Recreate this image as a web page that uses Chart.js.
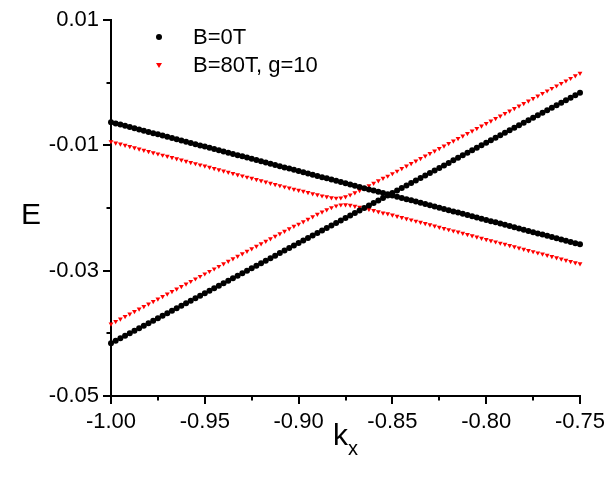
<!DOCTYPE html>
<html>
<head>
<meta charset="utf-8">
<script src="https://cdn.jsdelivr.net/npm/chart.js"></script>
<style>
  html, body { margin: 0; padding: 0; background: #fff; }
  #wrap { width: 615px; height: 477px; }
</style>
</head>
<body>
<div id="wrap"><canvas id="chart" width="615" height="477"></canvas></div>
<script>
// k_x grid shared by all four branches
const kx = [
  -1.0000, -0.9975, -0.9950, -0.9925, -0.9900, -0.9875, -0.9850, -0.9825, -0.9800, -0.9775,
  -0.9750, -0.9725, -0.9700, -0.9675, -0.9650, -0.9625, -0.9600, -0.9575, -0.9550, -0.9525,
  -0.9500, -0.9475, -0.9450, -0.9425, -0.9400, -0.9375, -0.9350, -0.9325, -0.9300, -0.9275,
  -0.9250, -0.9225, -0.9200, -0.9175, -0.9150, -0.9125, -0.9100, -0.9075, -0.9050, -0.9025,
  -0.9000, -0.8975, -0.8950, -0.8925, -0.8900, -0.8875, -0.8850, -0.8825, -0.8800, -0.8775,
  -0.8750, -0.8725, -0.8700, -0.8675, -0.8650, -0.8625, -0.8600, -0.8575, -0.8550, -0.8525,
  -0.8500, -0.8475, -0.8450, -0.8425, -0.8400, -0.8375, -0.8350, -0.8325, -0.8300, -0.8275,
  -0.8250, -0.8225, -0.8200, -0.8175, -0.8150, -0.8125, -0.8100, -0.8075, -0.8050, -0.8025,
  -0.8000, -0.7975, -0.7950, -0.7925, -0.7900, -0.7875, -0.7850, -0.7825, -0.7800, -0.7775,
  -0.7750, -0.7725, -0.7700, -0.7675, -0.7650, -0.7625, -0.7600, -0.7575, -0.7550, -0.7525,
  -0.7500
];

// B=0T, falling branch
const b0Down = [
  -0.00630, -0.00650, -0.00669, -0.00689, -0.00708, -0.00728, -0.00747, -0.00767, -0.00786, -0.00806,
  -0.00825, -0.00845, -0.00864, -0.00884, -0.00903, -0.00923, -0.00942, -0.00962, -0.00981, -0.01001,
  -0.01020, -0.01040, -0.01059, -0.01079, -0.01098, -0.01118, -0.01137, -0.01157, -0.01176, -0.01196,
  -0.01215, -0.01235, -0.01254, -0.01274, -0.01293, -0.01313, -0.01332, -0.01352, -0.01371, -0.01391,
  -0.01410, -0.01430, -0.01449, -0.01469, -0.01488, -0.01508, -0.01527, -0.01547, -0.01566, -0.01586,
  -0.01605, -0.01625, -0.01644, -0.01664, -0.01683, -0.01703, -0.01722, -0.01742, -0.01761, -0.01781,
  -0.01800, -0.01820, -0.01839, -0.01859, -0.01878, -0.01898, -0.01917, -0.01937, -0.01956, -0.01976,
  -0.01995, -0.02015, -0.02034, -0.02054, -0.02073, -0.02093, -0.02112, -0.02132, -0.02151, -0.02171,
  -0.02190, -0.02210, -0.02229, -0.02249, -0.02268, -0.02288, -0.02307, -0.02327, -0.02346, -0.02366,
  -0.02385, -0.02405, -0.02424, -0.02444, -0.02463, -0.02483, -0.02502, -0.02522, -0.02541, -0.02561,
  -0.02580
];

// B=0T, rising branch
const b0Up = [
  -0.0416, -0.0412, -0.0408, -0.0404, -0.0400, -0.0396, -0.0392, -0.0388, -0.0384, -0.0380,
  -0.0376, -0.0372, -0.0368, -0.0364, -0.0360, -0.0356, -0.0352, -0.0348, -0.0344, -0.0340,
  -0.0336, -0.0332, -0.0328, -0.0324, -0.0320, -0.0316, -0.0312, -0.0308, -0.0304, -0.0300,
  -0.0296, -0.0292, -0.0288, -0.0284, -0.0280, -0.0276, -0.0272, -0.0268, -0.0264, -0.0260,
  -0.0256, -0.0252, -0.0248, -0.0244, -0.0240, -0.0236, -0.0232, -0.0228, -0.0224, -0.0220,
  -0.0216, -0.0212, -0.0208, -0.0204, -0.0200, -0.0196, -0.0192, -0.0188, -0.0184, -0.0180,
  -0.0176, -0.0172, -0.0168, -0.0164, -0.0160, -0.0156, -0.0152, -0.0148, -0.0144, -0.0140,
  -0.0136, -0.0132, -0.0128, -0.0124, -0.0120, -0.0116, -0.0112, -0.0108, -0.0104, -0.0100,
  -0.0096, -0.0092, -0.0088, -0.0084, -0.0080, -0.0076, -0.0072, -0.0068, -0.0064, -0.0060,
  -0.0056, -0.0052, -0.0048, -0.0044, -0.0040, -0.0036, -0.0032, -0.0028, -0.0024, -0.0020,
  -0.0016
];

// B=80T, upper band (anticrossing near kx=-0.88)
const b80Upper = [
  -0.00940, -0.00960, -0.00979, -0.00999, -0.01018, -0.01038, -0.01057, -0.01077, -0.01096, -0.01116,
  -0.01135, -0.01155, -0.01174, -0.01194, -0.01213, -0.01233, -0.01252, -0.01272, -0.01291, -0.01311,
  -0.01330, -0.01350, -0.01369, -0.01389, -0.01408, -0.01428, -0.01447, -0.01467, -0.01486, -0.01506,
  -0.01525, -0.01545, -0.01564, -0.01584, -0.01603, -0.01623, -0.01642, -0.01662, -0.01681, -0.01701,
  -0.01714, -0.01733, -0.01751, -0.01770, -0.01788, -0.01805, -0.01820, -0.01834, -0.01841, -0.01837,
  -0.01818, -0.01789, -0.01754, -0.01718, -0.01680, -0.01642, -0.01603, -0.01564, -0.01524, -0.01490,
  -0.01450, -0.01410, -0.01370, -0.01330, -0.01290, -0.01250, -0.01210, -0.01170, -0.01130, -0.01090,
  -0.01050, -0.01010, -0.00970, -0.00930, -0.00890, -0.00850, -0.00810, -0.00770, -0.00730, -0.00690,
  -0.00650, -0.00610, -0.00570, -0.00530, -0.00490, -0.00450, -0.00410, -0.00370, -0.00330, -0.00290,
  -0.00250, -0.00210, -0.00170, -0.00130, -0.00090, -0.00050, -0.00010, 0.00030, 0.00070, 0.00110,
  0.00150
];

// B=80T, lower band
const b80Lower = [
  -0.03850, -0.03810, -0.03770, -0.03730, -0.03690, -0.03650, -0.03610, -0.03570, -0.03530, -0.03490,
  -0.03450, -0.03410, -0.03370, -0.03330, -0.03290, -0.03250, -0.03210, -0.03170, -0.03130, -0.03090,
  -0.03050, -0.03010, -0.02970, -0.02930, -0.02890, -0.02850, -0.02810, -0.02770, -0.02730, -0.02690,
  -0.02650, -0.02610, -0.02570, -0.02530, -0.02490, -0.02450, -0.02410, -0.02370, -0.02330, -0.02290,
  -0.02256, -0.02217, -0.02178, -0.02139, -0.02100, -0.02063, -0.02027, -0.01993, -0.01965, -0.01949,
  -0.01947, -0.01956, -0.01970, -0.01986, -0.02003, -0.02021, -0.02039, -0.02058, -0.02077, -0.02091,
  -0.02110, -0.02130, -0.02149, -0.02169, -0.02188, -0.02208, -0.02227, -0.02247, -0.02266, -0.02286,
  -0.02305, -0.02325, -0.02344, -0.02364, -0.02383, -0.02403, -0.02422, -0.02442, -0.02461, -0.02481,
  -0.02500, -0.02520, -0.02539, -0.02559, -0.02578, -0.02598, -0.02617, -0.02637, -0.02656, -0.02676,
  -0.02695, -0.02715, -0.02734, -0.02754, -0.02773, -0.02793, -0.02812, -0.02832, -0.02851, -0.02871,
  -0.02890
];

const seriesNames = ['B=0T', 'B=80T, g=10'];
const xTickLabels = ['-1.00', '-0.95', '-0.90', '-0.85', '-0.80', '-0.75'];
const yTickLabels = ['0.01', '-0.01', '-0.03', '-0.05'];

const FONT = "Arial, 'Liberation Sans', sans-serif";

function toPoints(ys) {
  return kx.map((x, i) => ({ x: x, y: ys[i] }));
}

function isXMajor(v) {
  return xTickLabels.indexOf(v.toFixed(2)) !== -1;
}
function isYMajor(v) {
  return yTickLabels.indexOf(v.toFixed(2)) !== -1;
}

const black = { pointStyle: 'circle', pointRadius: 3, pointBackgroundColor: '#000', pointBorderWidth: 0, pointRotation: 0 };
const red = { pointStyle: 'triangle', pointRadius: 2.8, pointBackgroundColor: '#ff0000', pointBorderWidth: 0, pointRotation: 180 };

// outside ticks, long for labelled values, short in between
const axisTicks = {
  id: 'axisTicks',
  afterDraw(chart) {
    const { ctx, chartArea: { left, bottom } } = chart;
    const xs = chart.scales.x, ys = chart.scales.y;
    ctx.save();
    ctx.strokeStyle = '#000';
    ctx.lineWidth = 2;
    xs.ticks.forEach(t => {
      const px = Math.round(xs.getPixelForValue(t.value));
      const len = isXMajor(t.value) ? 8 : 4.5;
      ctx.beginPath();
      ctx.moveTo(px, bottom);
      ctx.lineTo(px, bottom + len);
      ctx.stroke();
    });
    ys.ticks.forEach(t => {
      const py = Math.round(ys.getPixelForValue(t.value));
      const len = isYMajor(t.value) ? 8 : 4.5;
      ctx.beginPath();
      ctx.moveTo(left, py);
      ctx.lineTo(left - len, py);
      ctx.stroke();
    });
    ctx.restore();
  }
};

// axis titles: upright E and k with subscript x
const axisTitles = {
  id: 'axisTitles',
  afterDraw(chart) {
    const { ctx } = chart;
    ctx.save();
    ctx.fillStyle = '#000';
    ctx.textAlign = 'center';
    ctx.textBaseline = 'alphabetic';
    ctx.font = '30px ' + FONT;
    ctx.fillText('E', 31, 224);
    ctx.textAlign = 'left';
    ctx.font = '30px ' + FONT;
    ctx.fillText('k', 333, 445);
    const kw = ctx.measureText('k').width;
    ctx.font = '20px ' + FONT;
    ctx.fillText('x', 333 + kw, 455);
    ctx.restore();
  }
};

// legend inside the plot, top left
const innerLegend = {
  id: 'innerLegend',
  afterDraw(chart) {
    const { ctx } = chart;
    ctx.save();
    ctx.fillStyle = '#000';
    ctx.beginPath();
    ctx.arc(159, 37, 3, 0, Math.PI * 2);
    ctx.fill();
    ctx.fillStyle = '#ff0000';
    ctx.beginPath();
    ctx.moveTo(156, 63);
    ctx.lineTo(162, 63);
    ctx.lineTo(159, 68);
    ctx.closePath();
    ctx.fill();
    ctx.fillStyle = '#000';
    ctx.font = '22px ' + FONT;
    ctx.textAlign = 'left';
    ctx.textBaseline = 'middle';
    ctx.fillText(chart.data.datasets[0].label, 193, 38);
    ctx.fillText(chart.data.datasets[2].label, 193, 66);
    ctx.restore();
  }
};

new Chart(document.getElementById('chart'), {
  type: 'scatter',
  data: {
    datasets: [
      Object.assign({ label: seriesNames[0], data: toPoints(b0Down) }, black),
      Object.assign({ label: seriesNames[0], data: toPoints(b0Up) }, black),
      Object.assign({ label: seriesNames[1], data: toPoints(b80Upper) }, red),
      Object.assign({ label: seriesNames[1], data: toPoints(b80Lower) }, red)
    ]
  },
  options: {
    responsive: false,
    animation: false,
    devicePixelRatio: 1,
    events: [],
    layout: { padding: { left: 0, right: 35, top: 20, bottom: 0 } },
    elements: { point: { hoverRadius: 0 } },
    datasets: { scatter: { clip: false } },
    scales: {
      x: {
        type: 'linear',
        min: -1,
        max: -0.75,
        grid: { display: true, drawOnChartArea: false, drawTicks: true, tickLength: 8, tickColor: 'rgba(0,0,0,0)' },
        border: { display: true, color: '#000', width: 2 },
        ticks: {
          stepSize: 0.025,
          autoSkip: false,
          maxRotation: 0,
          padding: 5,
          color: '#000',
          font: { family: FONT, size: 22 },
          callback: v => isXMajor(v) ? v.toFixed(2) : ''
        },
        afterFit(scale) { scale.height = 81; }
      },
      y: {
        type: 'linear',
        min: -0.05,
        max: 0.01,
        grid: { display: true, drawOnChartArea: false, drawTicks: true, tickLength: 8, tickColor: 'rgba(0,0,0,0)' },
        border: { display: true, color: '#000', width: 2 },
        ticks: {
          stepSize: 0.01,
          autoSkip: false,
          padding: 4,
          color: '#000',
          font: { family: FONT, size: 22 },
          callback: v => isYMajor(v) ? v.toFixed(2) : ''
        },
        afterFit(scale) { scale.width = 111; }
      }
    },
    plugins: {
      legend: { display: false },
      tooltip: { enabled: false }
    }
  },
  plugins: [axisTicks, axisTitles, innerLegend]
});
</script>
</body>
</html>
